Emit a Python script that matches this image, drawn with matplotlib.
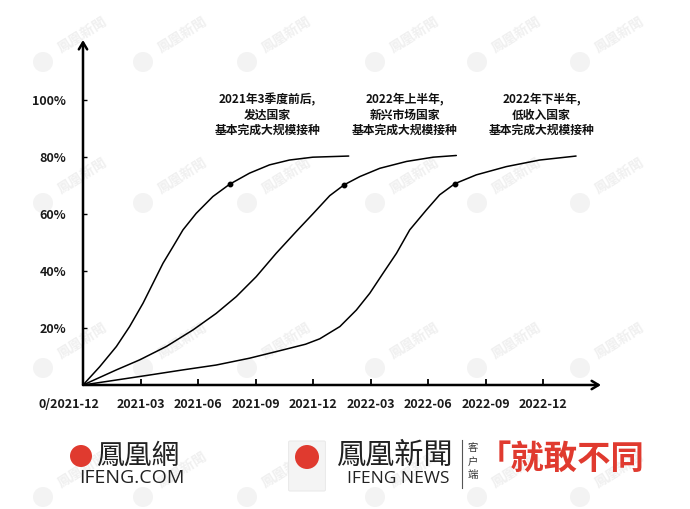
import numpy as np
import matplotlib
matplotlib.use('Agg')
import matplotlib.pyplot as plt
import matplotlib.transforms as mtransforms
from matplotlib.patches import Ellipse, FancyBboxPatch

plt.rcParams['font.family'] = ['Noto Sans CJK SC', 'DejaVu Sans']

# %% data (x = months after 2020-12, y = percent vaccinated)
x_ticks = [0, 3, 6, 9, 12, 15, 18, 21, 24]
x_labels = ['0/2021-12', '2021-03', '2021-06', '2021-09', '2021-12',
            '2022-03', '2022-06', '2022-09', '2022-12']
y_ticks = [20, 40, 60, 80, 100]
y_labels = ['20%', '40%', '60%', '80%', '100%']

# developed countries
dev_x = [0, 0.87, 1.74, 2.43, 3.13, 3.65, 4.17, 4.69, 5.21, 5.90, 6.77, 7.64,
         8.68, 9.72, 10.76, 11.98, 13.85]
dev_y = [0, 6.4, 13.5, 20.5, 28.7, 35.7, 42.7, 48.5, 54.4, 60.2, 66.1, 70.4,
         74.3, 77.2, 78.9, 79.9, 80.3]
# emerging markets
emg_x = [0, 1.74, 2.95, 4.34, 5.73, 6.94, 7.99, 9.03, 10.07, 11.11, 11.98,
         12.86, 13.61, 14.43, 15.47, 16.86, 18.25, 19.46]
emg_y = [0, 5.3, 8.8, 13.5, 19.3, 25.1, 31.0, 38.0, 46.2, 53.8, 60.0,
         66.4, 70.2, 73.1, 76.0, 78.4, 79.9, 80.5]
# low income countries
low_x = [0, 1.74, 3.47, 5.21, 6.94, 8.68, 10.42, 11.6, 12.34, 13.39, 14.25,
         14.95, 15.64, 16.34, 17.03, 17.90, 18.59, 19.38, 20.5, 22.07, 23.8, 25.7]
low_y = [0, 1.75, 3.5, 5.3, 7.0, 9.4, 12.3, 14.3, 16.2, 20.5, 26.3,
         32.2, 39.2, 46.2, 54.4, 61.4, 66.7, 70.6, 73.7, 76.6, 78.9, 80.3]

# marked points
dot_x = [7.64, 13.61, 19.38]
dot_y = [70.4, 70.2, 70.6]

notes = [
    ['2021年3季度前后,', '发达国家', '基本完成大规模接种'],
    ['2022年上半年,', '新兴市场国家', '基本完成大规模接种'],
    ['2022年下半年,', '低收入国家', '基本完成大规模接种'],
]
note_x = [9.6, 16.77, 23.9]
note_rows = [100.0, 94.7, 89.4]

W, H = 690, 509


def fx(px):
    return px / W


def fy(py):
    return 1 - py / H


def dot(px, py, r, color, z=1):
    return Ellipse((fx(px), fy(py)), 2 * r / W, 2 * r / H, transform=fig.transFigure,
                   facecolor=color, edgecolor='none', zorder=z)


# %% figure
fig = plt.figure(figsize=(6.9, 5.09), dpi=100)

# faint watermarks, kept behind everything else
wm_x = [43, 143, 247, 375, 477, 580]
wm_y = [62, 203, 368, 497]
for yy in wm_y:
    for xx in wm_x:
        fig.patches.append(dot(xx, yy, 10, '#f3f3f3', -2))
        fig.text(fx(xx + 12), fy(yy - 6), '鳳凰新聞', rotation=32, fontsize=10,
                 color='#f0f0f0', ha='left', va='bottom', zorder=-2,
                 family=['Noto Sans CJK TC', 'DejaVu Sans'], fontweight='bold')

ax = fig.add_axes([fx(83), fy(385), 518 / W, 345 / H])
ax.patch.set_alpha(0)
ax.set_xlim(0, 27)
ax.set_ylim(0, 121)

for xs, ys in [(dev_x, dev_y), (emg_x, emg_y), (low_x, low_y)]:
    ax.plot(xs, ys, '-', color='black', linewidth=1.1, solid_capstyle='round',
            solid_joinstyle='round')
ax.plot(dot_x, dot_y, 'o', color='black', ms=3.2)

for sp in ax.spines.values():
    sp.set_visible(False)
for end in [(1, 0), (0, 1)]:
    ax.annotate('', xy=end, xytext=(0, 0), xycoords='axes fraction',
                arrowprops=dict(arrowstyle='->,head_length=0.5,head_width=0.3',
                                lw=1.8, color='black', shrinkA=0, shrinkB=0))

ax.set_xticks(x_ticks)
ax.set_xticklabels(x_labels, fontsize=9, fontweight='bold', color='#1a1a1a')
ax.set_yticks(y_ticks)
ax.set_yticklabels(y_labels, fontsize=9, fontweight='bold', color='#1a1a1a')
ax.tick_params(axis='x', direction='in', length=4, width=1.3, pad=9)
ax.tick_params(axis='y', direction='in', length=3, width=1.0, pad=12)

# first date label sits a bit to the left of the origin
first = ax.get_xticklabels()[0]
first.set_transform(first.get_transform() +
                    mtransforms.ScaledTranslation(-0.14, 0, fig.dpi_scale_trans))

for xc, lines in zip(note_x, notes):
    for yr, line in zip(note_rows, lines):
        ax.text(xc, yr, line, ha='center', va='center', fontsize=8.5,
                fontweight='bold', color='#111111')

# %% footer logos
tc = ['Noto Sans CJK TC', 'DejaVu Sans']
red = '#e03a2f'
fig.patches.append(dot(81, 456, 11, red))
fig.text(fx(96), fy(456), '鳳凰網', fontsize=20, ha='left', va='center',
         family=tc, color='#222222')
fig.text(fx(132), fy(478), 'IFENG.COM', fontsize=14, ha='center',
         va='center', color='#222222', family=['Open Sans', 'DejaVu Sans'])

fig.patches.append(FancyBboxPatch((fx(290), fy(490)), 34 / W, 48 / H,
                                  boxstyle='round,pad=0.002', transform=fig.transFigure,
                                  facecolor='#f4f4f4', edgecolor='#e6e6e6', lw=0.6))
fig.patches.append(dot(307, 457, 12, red))
fig.text(fx(336), fy(456), '鳳凰新聞', fontsize=21, ha='left', va='center',
         family=tc, color='#222222')
fig.text(fx(398), fy(479), 'IFENG NEWS', fontsize=12.5, ha='center',
         va='center', color='#222222', family=['Open Sans', 'DejaVu Sans'])
fig.add_artist(plt.Line2D([fx(462), fx(462)], [fy(488), fy(440)],
                          transform=fig.transFigure, color='#555555', lw=0.8))
for i, ch in enumerate('客户端'):
    fig.text(fx(473), fy(448 + 13.5 * i), ch, fontsize=7.5, ha='center',
             va='center', color='#333333')
fig.text(fx(478), fy(459), '「就敢不同', fontsize=24, ha='left', va='center',
         color=red, fontweight='bold', family=tc)

fig.savefig('out.png', dpi=100)
